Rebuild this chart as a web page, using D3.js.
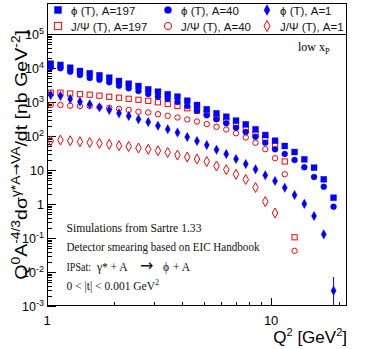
<!DOCTYPE html>
<html><head><meta charset="utf-8">
<script src="https://cdn.jsdelivr.net/npm/d3@7"></script>
<style>body{margin:0;background:#fff}svg{display:block}</style>
</head><body>
<svg id="c" width="386" height="349"></svg>
<script>
// Q^2 bin centres [GeV^2]
const q2 = [1.039,1.148,1.269,1.403,1.551,1.714,1.895,2.095,2.315,2.559,2.829,3.127,3.456,3.821,4.224,4.669,5.161,5.705,6.306,6.971,7.705,8.517,9.415,10.41,11.50,12.72,14.06,15.54,17.17,18.99];
// phi (T), A=197
const phiA197 = [13400,12300,10200,8160,6990,6100,5185,4145,3452,2955,2363,2009,1685,1432,1092,816,610,465,369,282,221,157,107,72.7,50.8,33.8,20.6,11.7,5.33,1.53];
// phi (T), A=40
const phiA40 = [10500,9800,7785,6225,5080,4528,3796,3015,2529,2106,1719,1432,1225,1000,763,555,406,310,236,175,131,95.4,63.5,40.6,29.5,19.7,12.0,6.22,3.23,0.833];
// phi (T), A=1
const phiA1 = [1607,1502,1225,1020,856,698,582,465,387,312,258,200,158,127,93.4,71.3,54.4,39.5,29.5,21.1,15.0,10.5,6.98,4.75,3.02,1.84,1.01,0.444,0.128,0.00282];
const phiA1Err = [0,0,0,0,0,0,0,0,0,0,0,0,0,0,0,0,0,0,0,0,0,0,0,0,0,0,0,0,0.01,0.0043];
// J/Psi (T), A=197
const jpsiA197 = [1877,1877,1778,1696,1639,1532,1422,1338,1242,1160,1085,980,873,763,653,555,465,338,282,211,157,112,87.3,54.4,17.8,0.105];
// J/Psi (T), A=40
const jpsiA40 = [816,816,778,763,763,713,675,631,582,515,491,438,393,350,306,267,225,186,155,120,90.3,63.5,40.9,22.2,7.52,0.042];
// J/Psi (T), A=1
const jpsiA1 = [72.2,76.3,72.7,68.0,64.4,61.0,57.0,51.8,49.1,44.4,40.6,36.9,32.7,27.6,24.1,21.1,17.8,13.1,10.3,7.47,5.26,3.06,1.18,0.544];

const xDomain = [1, 21.8];
const yDomain = [1e-3, 1e5];
const legendLabels = [
  ["ϕ (T), A=197","ϕ (T), A=40","ϕ (T), A=1"],
  ["J/Ψ (T), A=197","J/Ψ (T), A=40","J/Ψ (T), A=1"]
];
const notes = ["Simulations from Sartre 1.33","Detector smearing based on EIC Handbook"];

const svg = d3.select("#c");
const L=47, R=347, T=34, B=306;
const x = d3.scaleLog().domain(xDomain).range([L,R]);
const y = d3.scaleLog().domain(yDomain).range([B,T]);
const SANS = "'Liberation Sans', Arial, Helvetica, sans-serif";
const SERIF = "'Liberation Serif', 'Times New Roman', serif";
const ARROWF = "'DejaVu Sans', sans-serif";
const BLUE="#0000ff", RED="#ff0000";

function diamondPath(w,h){return `M0,${-h}L${w},0L0,${h}L${-w},0Z`;}

function drawSeries(vals, shape, filled, color, size, errs){
  const g = svg.append("g");
  const pts = vals.map((v,i)=>({x:q2[i], y:v, e: errs?errs[i]:0}));
  if(errs){
    g.selectAll("line.err").data(pts.filter(d=>d.e>0)).join("line")
      .attr("x1",d=>x(d.x)).attr("x2",d=>x(d.x))
      .attr("y1",d=>y(d.y+d.e)).attr("y2",d=>Math.min(B, d.y-d.e>0? y(d.y-d.e):B))
      .attr("stroke",color).attr("stroke-width",1);
  }
  const sel = g.selectAll("g.m").data(pts).join("g").attr("transform",d=>`translate(${x(d.x)},${y(d.y)})`);
  addShape(sel, shape, filled, color, size);
}
function addShape(sel, shape, filled, color, s){
  let m;
  if(shape==="square") m = sel.append("rect").attr("x",-s).attr("y",-s).attr("width",2*s).attr("height",2*s);
  else if(shape==="circle") m = sel.append("circle").attr("r",s);
  else m = sel.append("path").attr("d",diamondPath(s*0.55,s));
  if(filled) m.attr("fill",color).attr("stroke",color).attr("stroke-width",0.6).attr("stroke-opacity",0.5);
  else m.attr("fill","none").attr("stroke",color).attr("stroke-width",1);
}

// ticks
const yt = y.ticks();
const ax = svg.append("g").attr("stroke","#000").attr("stroke-width",1);
yt.forEach(t=>{
  const maj = Math.abs(Math.log10(t)-Math.round(Math.log10(t)))<1e-9;
  const yy = Math.round(y(t))+0.5;
  ax.append("line").attr("x1",L).attr("x2",L+(maj?9:5)).attr("y1",yy).attr("y2",yy);
});
const xt = x.ticks();
xt.forEach(t=>{
  const maj = Math.abs(Math.log10(t)-Math.round(Math.log10(t)))<1e-9;
  const xx = Math.round(x(t))+0.5;
  ax.append("line").attr("x1",xx).attr("x2",xx).attr("y1",B).attr("y2",B-(maj?8:4));
});

// data (red below blue)
drawSeries(jpsiA1,"diamond",false,RED,5);
drawSeries(jpsiA40,"circle",false,RED,2.7);
drawSeries(jpsiA197,"square",false,RED,2.6);
drawSeries(phiA1,"diamond",true,BLUE,4.8,phiA1Err);
drawSeries(phiA40,"circle",true,BLUE,3);
drawSeries(phiA197,"square",true,BLUE,3);

svg.append("rect").attr("x",L+0.5).attr("y",T+0.5).attr("width",R-L-1).attr("height",B-T-1)
  .attr("fill","none").attr("stroke","#000").attr("stroke-width",1);

// y tick labels
const yl = svg.append("g").attr("font-family",SANS).attr("fill","#000");
d3.range(-3,6).forEach(k=>{
  const t = yl.append("text").attr("x",44).attr("y",y(Math.pow(10,k))+4.5).attr("text-anchor","end").attr("font-size",12.5);
  if(k===0) t.text("1");
  else if(k===1) t.text("10");
  else { t.append("tspan").text("10"); t.append("tspan").attr("dy",-5).attr("font-size",9).text(k<0?"-"+(-k):String(k)); }
});
// x tick labels
[1,10].forEach(v=>{
  svg.append("text").attr("x",x(v)).attr("y",325).attr("text-anchor","middle")
    .attr("font-family",SANS).attr("font-size",13).text(String(v));
});

// axis titles
const xtitle = svg.append("text").attr("x",R).attr("y",343).attr("text-anchor","end")
  .attr("font-family",SANS).attr("font-size",17);
xtitle.append("tspan").text("Q");
xtitle.append("tspan").attr("dy",-7).attr("font-size",11).text("2");
xtitle.append("tspan").attr("dy",7).text(" [GeV");
xtitle.append("tspan").attr("dy",-7).attr("font-size",11).text("2");
xtitle.append("tspan").attr("dy",7).text("]");

const yg = svg.append("g").attr("transform","translate(27,30) rotate(-90)");
const ytitle = yg.append("text").attr("text-anchor","end").attr("font-family",SANS).attr("font-size",17);
ytitle.append("tspan").text("Q");
ytitle.append("tspan").attr("dy",-7).attr("font-size",12).text("0");
ytitle.append("tspan").attr("dy",7).text("A");
ytitle.append("tspan").attr("dy",-7).attr("font-size",12).text("-4/3");
ytitle.append("tspan").attr("dy",7).text("dσ");
ytitle.append("tspan").attr("dy",-7).attr("font-size",12).text("γ*A");
ytitle.append("tspan").attr("font-size",12).attr("font-family",ARROWF).text("\u2192");
ytitle.append("tspan").attr("font-size",12).text("VA");
ytitle.append("tspan").attr("dy",7).text("/dt  [nb GeV");
ytitle.append("tspan").attr("dy",-7).attr("font-size",12).text("-2");
ytitle.append("tspan").attr("dy",7).text("]");
const ylen = ytitle.node().getComputedTextLength();
if (ylen > 0) { const k = 250/ylen; ytitle.attr("transform",`scale(${k},1)`); }

// legend
svg.append("rect").attr("x",L+0.5).attr("y",3.5).attr("width",R-L-1).attr("height",T-3)
  .attr("fill","#fff").attr("stroke","#000").attr("stroke-width",1);
const colX = [58,168,267];
const rowY = [10,26];
const shapes = ["square","circle","diamond"];
const lsz = [3.6,3.6,5.5];
legendLabels.forEach((row,r)=>{
  row.forEach((lab,c)=>{
    const g = svg.append("g").attr("transform",`translate(${colX[c]},${rowY[r]})`);
    addShape(g, shapes[c], r===0, r===0?BLUE:RED, lsz[c]);
    svg.append("text").attr("x",colX[c]+13).attr("y",rowY[r]+4.5)
      .attr("font-family",SANS).attr("font-size",11.5).attr("fill","#111").text(lab);
  });
});

// low x_P
const lx = svg.append("text").attr("x",298).attr("y",51).attr("font-family",SERIF).attr("font-size",12);
lx.append("tspan").text("low x");
lx.append("tspan").attr("dy",3).attr("font-size",8.5).text("P");

// notes
const nf = svg.append("g").attr("font-family",SERIF).attr("font-size",11.5).attr("fill","#111");
nf.append("text").attr("x",66.5).attr("y",231.5).attr("textLength",135).attr("lengthAdjust","spacingAndGlyphs").text(notes[0]);
nf.append("text").attr("x",66.5).attr("y",250.5).attr("textLength",193).attr("lengthAdjust","spacingAndGlyphs").text(notes[1]);
nf.append("text").attr("x",66.5).attr("y",270.5).attr("textLength",24.5).attr("lengthAdjust","spacingAndGlyphs").text("IPSat:");
nf.append("text").attr("x",97).attr("y",270.5).text("γ*");
nf.append("text").attr("x",110.5).attr("y",270.5).text("+ A");
nf.append("text").attr("x",140).attr("y",270.5).attr("font-family",ARROWF).attr("font-size",16).text("\u2192");
nf.append("text").attr("x",163).attr("y",270.5).text("ϕ");
nf.append("text").attr("x",173).attr("y",270.5).text("+ A");
const tt = nf.append("text").attr("x",66.5).attr("y",289.5);
tt.append("tspan").text("0 < |t| < 0.001 GeV");
tt.append("tspan").attr("dy",-5).attr("font-size",8).text("2");
</script>
</body></html>
